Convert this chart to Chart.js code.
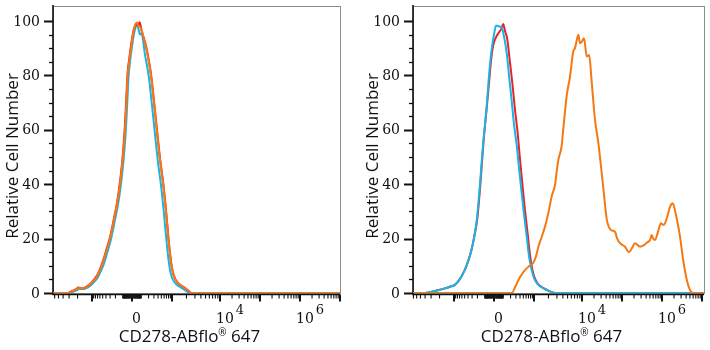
<!DOCTYPE html>
<html>
<head>
<meta charset="utf-8">
<script src="https://cdn.jsdelivr.net/npm/chart.js@4.4.1/dist/chart.umd.min.js"></script>
<style>
  html, body { margin: 0; padding: 0; background: #fff; }
  #wrap { display: flex; width: 710px; height: 350px; }
  canvas { display: block; }
</style>
</head>
<body>
<div id="wrap">
  <canvas id="left" width="355" height="350"></canvas>
  <canvas id="right" width="355" height="350"></canvas>
</div>
<script>
// Histogram traces: [channel position on the biexponential axis, relative cell number]
const leftRed = [[-1.975,0],[-1.62,0],[-1.52,0.6],[-1.4,1.4],[-1.34,2],[-1.24,1.7],[-1.13,2.4],[-1.03,3.6],[-0.88,6.3],[-0.8,8.8],[-0.72,12],[-0.64,16],[-0.55,20.5],[-0.45,27.5],[-0.37,33.5],[-0.3,41],[-0.24,49],[-0.18,61],[-0.145,71],[-0.11,81],[-0.07,86],[-0.025,91],[0.04,96.5],[0.1,98.5],[0.15,98.2],[0.19,99.5],[0.24,96.5],[0.32,92.5],[0.37,89.5],[0.42,85.5],[0.475,80.5],[0.55,70.5],[0.62,60.5],[0.7,49.5],[0.78,40.5],[0.85,30.5],[0.91,20.5],[0.96,13.5],[1.0,9.3],[1.05,6.2],[1.15,3.7],[1.28,2.3],[1.4,1],[1.49,0],[5.2,0]];
const leftCyan = [[-1.975,0],[-1.58,0],[-1.48,0.4],[-1.36,1.2],[-1.3,1.5],[-1.21,1.5],[-1.1,2.1],[-1.0,3.2],[-0.86,5.6],[-0.78,8],[-0.7,10.8],[-0.62,14.8],[-0.53,19.5],[-0.43,26.5],[-0.35,32.5],[-0.28,39.5],[-0.22,47.5],[-0.155,59.5],[-0.12,69.5],[-0.088,79],[-0.05,85],[-0.005,90],[0.06,96],[0.13,98.5],[0.2,95],[0.24,95.5],[0.28,92.5],[0.32,88],[0.37,84],[0.425,79],[0.5,69],[0.57,59],[0.65,48],[0.73,39],[0.8,29],[0.86,19.5],[0.91,12.5],[0.95,8.5],[1.0,5.6],[1.1,3.3],[1.23,2],[1.35,0.8],[1.44,0],[5.2,0]];
const leftOrange = [[-1.975,0],[-1.6,0],[-1.5,0.5],[-1.38,1.5],[-1.33,1.8],[-1.23,1.7],[-1.13,2.3],[-1.03,3.5],[-0.88,6],[-0.8,8.5],[-0.72,11.5],[-0.64,15.5],[-0.55,20],[-0.45,27],[-0.37,33],[-0.3,40],[-0.24,48],[-0.175,60],[-0.14,70],[-0.108,80],[-0.07,85],[-0.025,90],[0.04,96.5],[0.12,99.4],[0.16,98],[0.2,97.8],[0.26,95.5],[0.32,92],[0.37,89],[0.42,85],[0.475,80],[0.55,70],[0.62,60],[0.7,49],[0.78,40],[0.85,30],[0.91,20],[0.96,13],[1.0,9],[1.05,6],[1.15,3.6],[1.28,2.3],[1.4,1],[1.49,0],[5.2,0]];

const rightRed = [[-2.025,0],[-1.72,0],[-1.55,0.5],[-1.4,1.0],[-1.23,1.7],[-1.1,2.3],[-0.98,3],[-0.85,5.2],[-0.73,8.5],[-0.64,12],[-0.56,16],[-0.49,21],[-0.42,27],[-0.38,33],[-0.34,40],[-0.3,48],[-0.26,56],[-0.215,63],[-0.17,70],[-0.12,78],[-0.07,86],[-0.02,91],[0.05,94],[0.11,95.5],[0.18,97],[0.23,98.9],[0.28,96],[0.33,93.5],[0.39,86],[0.46,77],[0.52,68],[0.59,59],[0.645,50],[0.71,40],[0.77,31],[0.84,22],[0.9,14],[0.96,8.5],[1.02,5.5],[1.09,3.6],[1.19,2.2],[1.33,1.1],[1.43,0.4],[1.53,0],[5.25,0]];
const rightCyan = [[-2.025,0],[-1.725,0],[-1.56,0.5],[-1.4,1.0],[-1.23,1.7],[-1.1,2.3],[-0.98,3],[-0.85,5.2],[-0.73,8.5],[-0.64,12],[-0.56,16],[-0.49,21],[-0.43,27],[-0.39,33],[-0.35,40],[-0.31,48],[-0.27,55],[-0.225,62],[-0.18,69],[-0.14,77],[-0.1,84],[-0.05,90.5],[0,95],[0.05,98.3],[0.125,98],[0.19,97.6],[0.25,94.3],[0.32,88],[0.375,80],[0.44,71],[0.5,62],[0.57,54],[0.625,46],[0.69,37],[0.75,29],[0.82,20.5],[0.875,13.5],[0.94,8.5],[1.0,5.5],[1.07,3.6],[1.175,2.2],[1.32,1.1],[1.425,0.4],[1.525,0],[5.25,0]];
const rightOrange = [[-2.025,0],[0.44,0],[0.53,2.2],[0.61,4.8],[0.725,7.5],[0.86,9.7],[0.98,11],[1.05,13.5],[1.11,17],[1.19,20.5],[1.275,24.4],[1.36,29.5],[1.44,35.4],[1.525,39.7],[1.57,45],[1.61,49],[1.69,54],[1.73,60],[1.82,72.8],[1.9,79.5],[1.98,88.7],[2.025,90],[2.07,93],[2.11,94.9],[2.15,91.8],[2.2,92.5],[2.25,93.6],[2.32,86.9],[2.38,87.5],[2.44,78],[2.525,63.6],[2.61,55],[2.73,39],[2.82,27],[2.88,24],[2.94,23],[3.025,22.5],[3.08,20],[3.15,18.3],[3.275,17],[3.375,15],[3.45,16.5],[3.525,18.3],[3.65,17],[3.75,17.6],[3.82,18.5],[3.9,19.5],[3.94,21.3],[3.98,20],[4.025,19.5],[4.1,22.5],[4.175,25.6],[4.23,25],[4.275,25.6],[4.34,28.5],[4.4,31.7],[4.47,33],[4.54,29.3],[4.6,25],[4.65,20.7],[4.73,12.1],[4.82,4.8],[4.9,1.1],[4.98,0],[5.25,0]];

// Axis ticks
const yMajorTicks = [0, 20, 40, 60, 80, 100];
const yMinorStep = 5;
const xMajorTicks = [-1e3, 0, 1e3, 1e4, 1e5, 1e6, 1e7];
const xTickLabels = [[0, '0', ''], [1e4, '10', '4'], [1e6, '10', '6']];

const RED = '#e8222c', CYAN = '#19b4e4', ORANGE = '#f47914';
const TICK_FONT = '"DejaVu Serif"';
const TITLE_FONT = '"Open Sans"';

// raw intensity -> channel position (linear near zero, log above 10^3)
function toChan(v) {
  const a = Math.abs(v), s = Math.sign(v);
  if (a <= 1000) return s * Math.asinh(a / 160) / Math.asinh(1000 / 160);
  if (a <= 1e4) return s * (1 + Math.log10(a / 1000) * 1.2);
  return s * (2.2 + Math.log10(a / 1e4));
}

function minorTicks() {
  const out = [];
  for (let n = 1; n <= 6; n++) {
    for (let k = 2; k <= 9; k++) {
      out.push(k * Math.pow(10, n));
      if (n <= 3) out.push(-k * Math.pow(10, n));
    }
  }
  for (let k = 1; k <= 9; k++) { out.push(k * 10); out.push(-k * 10); }
  out.push(100, -100);
  return out;
}

const axesPlugin = {
  id: 'flowAxes',
  // frame under the traces so zero-count runs sit on the axis line
  beforeDatasetsDraw(chart) {
    const { ctx, chartArea: a } = chart;
    ctx.save();
    ctx.strokeStyle = '#8c8c8c';
    ctx.lineWidth = 1;
    ctx.strokeRect(a.left + 0.5, a.top + 0.5, a.right - a.left, a.bottom - a.top);
    ctx.strokeStyle = '#111';
    ctx.lineWidth = 1.6;
    ctx.beginPath();
    ctx.moveTo(a.left, a.top - 1); ctx.lineTo(a.left, a.bottom + 1.5);
    ctx.lineTo(a.right, a.bottom + 1.5);
    ctx.stroke();
    ctx.restore();
  },
  afterDraw(chart) {
    const { ctx, chartArea: a, scales } = chart;
    const xs = scales.x, ys = scales.y;
    ctx.save();
    ctx.strokeStyle = '#111';

    // y ticks
    for (let v = 0; v <= 100; v += yMinorStep) {
      const y = Math.round(ys.getPixelForValue(v)) + 0.5;
      const major = yMajorTicks.includes(v);
      ctx.lineWidth = major ? 2 : 1.3;
      ctx.beginPath();
      ctx.moveTo(a.left - (major ? 9 : 4), y);
      ctx.lineTo(a.left, y);
      ctx.stroke();
    }
    ctx.fillStyle = '#111';
    ctx.font = '14px ' + TICK_FONT;
    ctx.textAlign = 'right';
    ctx.textBaseline = 'middle';
    yMajorTicks.forEach(v => ctx.fillText(String(v), a.left - 13, ys.getPixelForValue(v) + 1));

    // x ticks
    const base = a.bottom + 1.5;
    const drawX = (v, len, w) => {
      const x = xs.getPixelForValue(toChan(v));
      if (x < a.left - 0.5 || x > a.right + 0.5) return;
      ctx.lineWidth = w;
      ctx.beginPath();
      ctx.moveTo(x, base);
      ctx.lineTo(x, base + len);
      ctx.stroke();
    };
    minorTicks().forEach(v => drawX(v, 4, 1.1));
    xMajorTicks.forEach(v => drawX(v, 7, 2));

    ctx.textBaseline = 'alphabetic';
    xTickLabels.forEach(([v, txt, sup]) => {
      const x = xs.getPixelForValue(toChan(v));
      ctx.font = '14px ' + TICK_FONT;
      if (!sup) {
        ctx.textAlign = 'center';
        ctx.fillText(txt, x + 4.5, 323);
        return;
      }
      ctx.textAlign = 'left';
      ctx.fillText(txt, x - 4, 323);
      const w = ctx.measureText(txt).width;
      ctx.font = '13px ' + TICK_FONT;
      ctx.fillText(sup, x - 2 + w, 314);
    });

    // x title with small registered mark
    const cx = (a.left + a.right) / 2 - 7;
    const parts = [['CD278-ABflo', '17px ' + TITLE_FONT, 0], ['®', '10px ' + TITLE_FONT, -6], [' 647', '17px ' + TITLE_FONT, 0]];
    let total = 0;
    parts.forEach(p => { ctx.font = p[1]; total += ctx.measureText(p[0]).width; });
    let px = cx - total / 2;
    ctx.textAlign = 'left';
    parts.forEach(p => {
      ctx.font = p[1];
      ctx.fillText(p[0], px, 342 + p[2]);
      px += ctx.measureText(p[0]).width;
    });

    // y title
    ctx.save();
    ctx.translate(a.left - 40, 156);
    ctx.rotate(-Math.PI / 2);
    ctx.textAlign = 'center';
    ctx.textBaseline = 'middle';
    ctx.font = '17px ' + TITLE_FONT;
    ctx.fillText('Relative Cell Number', 0, 0);
    ctx.restore();
    ctx.restore();
  }
};

// the first dataset is drawn on top
function line(points, color) {
  return {
    data: points.map(([x, y]) => ({ x, y })),
    borderColor: color,
    borderWidth: 2,
    pointRadius: 0,
    fill: false,
    cubicInterpolationMode: 'monotone'
  };
}

function histogram(id, sets, xMin, xMax, padLeft, padRight) {
  new Chart(document.getElementById(id), {
    type: 'line',
    data: { datasets: sets },
    options: {
      responsive: false,
      animation: false,
      layout: { padding: { left: padLeft, right: padRight, top: 6, bottom: 57 } },
      plugins: { legend: { display: false }, tooltip: { enabled: false } },
      scales: {
        x: { type: 'linear', min: xMin, max: xMax, display: false },
        y: { min: 0, max: 105.5, display: false }
      }
    },
    plugins: [axesPlugin]
  });
}

histogram('left', [line(leftOrange, ORANGE), line(leftRed, RED), line(leftCyan, CYAN)], -1.975, 5.2, 53, 15);
histogram('right', [line(rightOrange, ORANGE), line(rightCyan, CYAN), line(rightRed, RED)], -2.025, 5.25, 58, 6);
</script>
</body>
</html>
